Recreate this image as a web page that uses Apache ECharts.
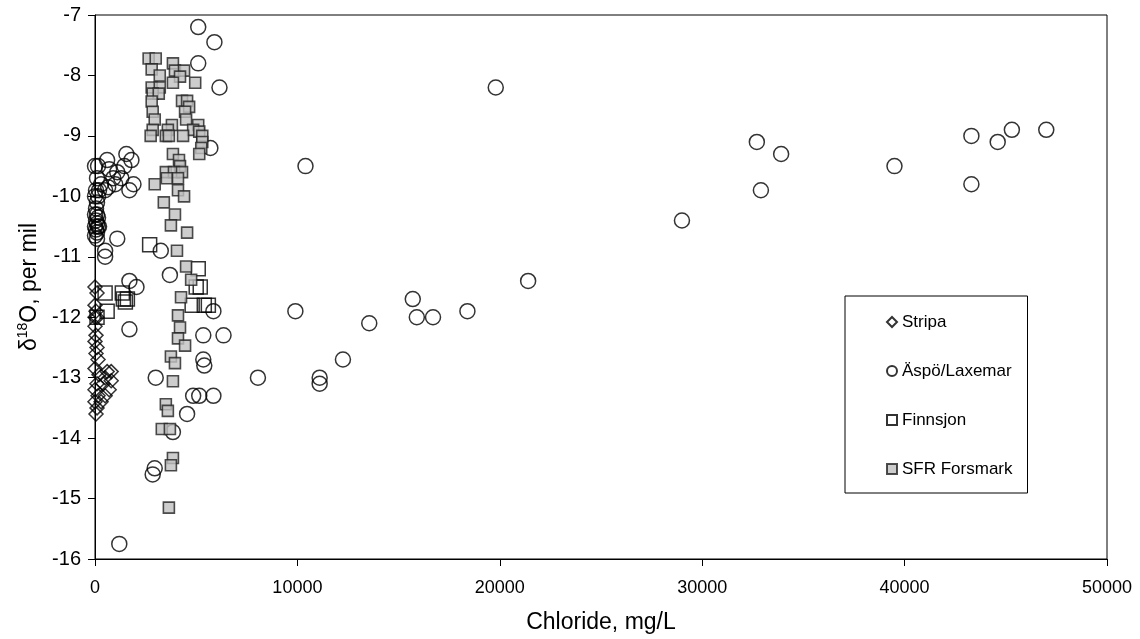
<!DOCTYPE html>
<html><head><meta charset="utf-8">
<script src="https://cdn.jsdelivr.net/npm/echarts@6/dist/echarts.min.js"></script>
<style>html,body{margin:0;padding:0;background:#fff}#c{width:1140px;height:639px}</style>
</head><body><div id="c"></div>
<script>
// Chloride (mg/L), delta18O (per mil)
const stripa = [[0,-11.5],[100,-11.6],[0,-11.8],[50,-11.9],[0,-12.0],[100,-12.0],[0,-12.15],[50,-12.3],[0,-12.4],[100,-12.5],[50,-12.6],[150,-12.7],[0,-12.85],[200,-12.95],[100,-13.1],[0,-13.2],[150,-13.3],[0,-13.4],[100,-13.5],[50,-13.6],[600,-12.9],[800,-12.9],[500,-13.0],[700,-13.2],[400,-13.1],[500,-13.3],[300,-13.4],[800,-13.05]];
const aspo = [[47000,-8.9],[45300,-8.9],[44600,-9.1],[43300,-9.0],[43300,-9.8],[39500,-9.5],[33900,-9.3],[32900,-9.9],[32700,-9.1],[29000,-10.4],[21400,-11.4],[19800,-8.2],[18400,-11.9],[16700,-12.0],[15900,-12.0],[15700,-11.7],[13550,-12.1],[12250,-12.7],[11100,-13.0],[11100,-13.1],[10400,-9.5],[9900,-11.9],[8050,-13.0],
[6350,-12.3],[6150,-8.2],[5900,-7.45],[5850,-13.3],[5700,-9.2],[5850,-11.9],[5350,-12.7],[5400,-12.8],[5350,-12.3],[5100,-7.2],[5100,-7.8],[5150,-13.3],[4850,-13.3],[4550,-13.6],[3700,-11.3],[3850,-13.9],[3250,-10.9],[3000,-13.0],[2950,-14.5],[2850,-14.6],[2050,-11.5],[1700,-11.4],[1700,-12.2],[1700,-9.9],[1800,-9.4],[1550,-9.3],[1900,-9.8],[1450,-9.5],[1100,-10.7],[1200,-15.75],
[600,-9.4],[150,-9.5],[1100,-9.6],[900,-9.7],[650,-9.85],[500,-9.9],[700,-9.55],[1000,-9.8],[300,-9.8],[500,-10.9],[500,-11.0],[1300,-9.7],
[0,-9.5],[100,-9.7],[50,-9.9],[150,-10.0],[100,-10.1],[50,-10.2],[100,-10.3],[150,-10.35],[50,-10.4],[100,-10.45],[150,-10.5],[50,-10.55],[100,-10.6],[0,-10.65],[100,-10.7],[200,-10.5],[0,-10.3],[200,-9.9],[0,-10.0],[0,-10.5]];
const finnsjon = [[2700,-10.8],[500,-11.6],[1350,-11.6],[1400,-11.7],[1500,-11.75],[1600,-11.7],[600,-11.9],[100,-12.0],[5100,-11.2],[5000,-11.5],[5200,-11.5],[4800,-11.8],[5400,-11.8],[5600,-11.8]];
const sfr = [[2650,-7.72],[3000,-7.72],[2800,-7.9],[3200,-8.0],[2800,-8.2],[3200,-8.2],[2850,-8.3],[3150,-8.3],[2800,-8.43],[2850,-8.6],[2950,-8.73],[2850,-8.9],[2750,-9.0],
[3850,-7.8],[3950,-7.92],[4400,-7.92],[4200,-8.02],[3850,-8.12],[4950,-8.12],[4300,-8.42],[4550,-8.42],[4650,-8.52],[4450,-8.6],[4500,-8.73],[3800,-8.82],[5100,-8.82],[3600,-8.9],[4850,-8.9],[5150,-8.93],[3500,-9.0],[3650,-9.0],[4350,-9.0],[5300,-9.0],[5300,-9.1],[5250,-9.2],[5150,-9.3],[3850,-9.3],[4150,-9.4],[4200,-9.5],[3500,-9.6],[3900,-9.6],[4300,-9.6],[3550,-9.7],[4100,-9.7],[2950,-9.8],[4100,-9.9],[4400,-10.0],[3400,-10.1],[3950,-10.3],[3750,-10.48],[4550,-10.6],
[4050,-10.9],[4500,-11.16],[4750,-11.38],[4250,-11.67],[4100,-11.97],[4200,-12.17],[4100,-12.35],[4450,-12.47],[3750,-12.65],[3950,-12.76],[3850,-13.06],[3500,-13.44],[3600,-13.55],[3300,-13.85],[3700,-13.85],[3850,-14.33],[3750,-14.45],[3650,-15.15]];
const xTicks = {min:0, max:50000, step:10000};
const yTicks = {min:-16, max:-7, step:1};

const chart = echarts.init(document.getElementById('c'), null, {renderer:'canvas'});
const font = 'Liberation Sans';
const open = {color:'rgba(0,0,0,0)', borderColor:'#000', borderWidth:1.5};
chart.setOption({
  animation:false,
  backgroundColor:'#fff',
  grid:{left:95, right:33, top:15, bottom:79, show:true, borderColor:'#000', borderWidth:1, backgroundColor:'transparent'},
  legend:{
    orient:'vertical', left:845, top:296,
    borderColor:'#000', borderWidth:1, borderRadius:0,
    padding:[17,15,15,41], itemGap:31, itemWidth:10, itemHeight:10,
    textStyle:{fontFamily:font, fontSize:17, lineHeight:18, color:'#000'},
    data:['Stripa','Äspö/Laxemar','Finnsjon','SFR Forsmark']
  },
  xAxis:{
    type:'value', min:xTicks.min, max:xTicks.max, interval:xTicks.step,
    name:'Chloride, mg/L', nameLocation:'middle', nameGap:52,
    nameTextStyle:{fontFamily:font, fontSize:23, color:'#000'},
    axisLine:{lineStyle:{color:'#000', width:1}},
    axisTick:{show:true, length:7, lineStyle:{color:'#000'}},
    axisLabel:{fontFamily:font, fontSize:18, color:'#000', margin:20, formatter:v=>String(v)},
    splitLine:{show:false}
  },
  yAxis:{
    type:'value', min:yTicks.min, max:yTicks.max, interval:yTicks.step,
    name:'{a|δ}{s|18}{a|O, per mil}', nameLocation:'middle', nameGap:52, nameRotate:90,
    nameTextStyle:{fontFamily:font, fontSize:23, color:'#000',
      rich:{a:{fontFamily:font, fontSize:23, color:'#000'}, s:{fontFamily:font, fontSize:14, color:'#000', padding:[0,0,13,0]}}},
    axisLine:{lineStyle:{color:'#000', width:1}},
    axisTick:{show:true, length:7, lineStyle:{color:'#000'}},
    axisLabel:{fontFamily:font, fontSize:20, color:'#000', margin:14},
    splitLine:{show:false}
  },
  series:[
    {name:'Stripa', type:'scatter', symbol:'diamond', symbolSize:[14,14], data:stripa, itemStyle:open},
    {name:'Äspö/Laxemar', type:'scatter', symbol:'circle', symbolSize:15, data:aspo, itemStyle:open},
    {name:'Finnsjon', type:'scatter', symbol:'rect', symbolSize:14, data:finnsjon, itemStyle:open},
    {name:'SFR Forsmark', type:'scatter', symbol:'rect', symbolSize:11, data:sfr, itemStyle:{color:'#c0c0c0', borderColor:'#222', borderWidth:1.6}}
  ]
});
</script></body></html>
